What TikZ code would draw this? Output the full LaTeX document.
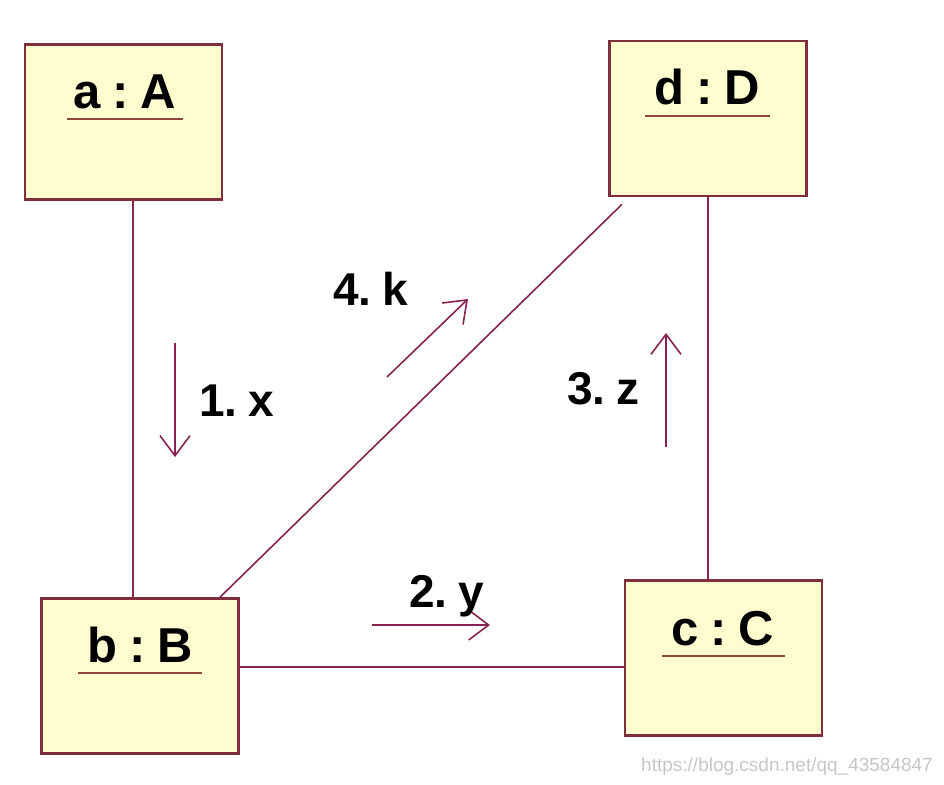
\documentclass[tikz,border=0pt]{standalone}
\usepackage{fontspec}
\setmainfont{Liberation Sans}
\usetikzlibrary{arrows.meta}
\definecolor{boxfill}{RGB}{255,252,208}
\definecolor{boxline}{RGB}{128,45,60}
\definecolor{conn}{RGB}{135,35,80}
\definecolor{uline}{RGB}{140,70,60}
\newcommand{\gp}{\hspace{0.24em}}
\begin{document}
\begin{tikzpicture}[x=1pt,y=-1pt,
  objbox/.style={draw=boxline,fill=boxfill,line width=2.6pt,minimum width=197pt,minimum height=155pt,inner sep=0pt},
  title/.style={anchor=base,font=\fontsize{49}{58}\selectfont\bfseries,inner sep=0pt},
  uln/.style={draw=uline,line width=2.4pt},
  link/.style={draw=conn,line width=1.6pt},
  msg/.style={draw=conn,line width=1.6pt,-{Straight Barb[length=20pt,width=30pt,line width=1.6pt]}},
  msglabel/.style={anchor=base west,font=\fontsize{46}{55}\selectfont\bfseries,inner sep=0pt}]
\useasboundingbox (0,0) rectangle (944,784);
\fill[white] (0,0) rectangle (944,784);
% boxes
\node[objbox] (a) at (123.5,122) {};
\node[objbox] (d) at (708,118.5) {};
\node[objbox] (b) at (140,676) {};
\node[objbox] (c) at (723.5,658) {};
% titles
\node[title] (ta) at (125,108) {a\gp:\gp A};
\node[title] (td) at (707,104) {d\gp:\gp D};
\node[title] (tb) at (140,662) {b\gp:\gp B};
\node[title] (tc) at (723,645) {c\gp:\gp C};
\coordinate (ua1) at (67,119);  \coordinate (ua2) at (183,119);
\coordinate (ud1) at (645,116); \coordinate (ud2) at (770,116);
\coordinate (ub1) at (78,673);  \coordinate (ub2) at (202,673);
\coordinate (uc1) at (662,656); \coordinate (uc2) at (785,656);
\draw[uln] (ua1) -- (ua2);
\draw[uln] (ud1) -- (ud2);
\draw[uln] (ub1) -- (ub2);
\draw[uln] (uc1) -- (uc2);
% links
\draw[link] ([xshift=9.5pt]a.south) -- ([xshift=-7pt]b.north);
\draw[link] (d.south) -- ([xshift=-15.5pt]c.north);
\draw[link] ([yshift=9pt]b.east) -- ([yshift=-9pt]c.west);
\draw[link] ([xshift=80pt]b.north) -- ([shift={(-86pt,-7pt)}]d.south);
% messages
\coordinate (m1s) at (175,343); \coordinate (m1e) at (175,457);
\coordinate (m2s) at (372,625); \coordinate (m2e) at (490,625);
\coordinate (m3s) at (666,447); \coordinate (m3e) at (666,333);
\coordinate (m4s) at (387,377); \coordinate (m4e) at (468,299);
\draw[msg] (m1s) -- (m1e);
\draw[msg] (m2s) -- (m2e);
\draw[msg] (m3s) -- (m3e);
\draw[msg] (m4s) -- (m4e);
\node[msglabel] (l1) at (199,416) {1.\gp x};
\node[msglabel] (l2) at (409,607) {2.\gp y};
\node[msglabel] (l3) at (567,404) {3.\gp z};
\node[msglabel] (l4) at (333,305) {4.\gp k};
% watermark
\node[anchor=base east,text=black!22,font=\fontsize{19}{22}\selectfont,inner sep=0pt] (wm) at (933,771) {https://blog.csdn.net/qq\_43584847};
\end{tikzpicture}
\end{document}
